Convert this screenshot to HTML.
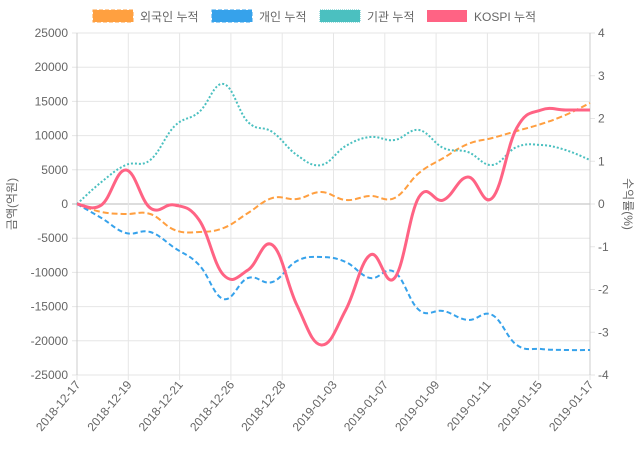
<!DOCTYPE html>
<html><head><meta charset="utf-8"><style>
body{margin:0;background:#fff;}
svg text{font-family:"Liberation Sans","Noto Sans CJK KR",sans-serif;fill:#666;font-size:12px;}
</style></head><body>
<svg id="c" width="640" height="450" xmlns="http://www.w3.org/2000/svg">
<g id="grid"></g>
<g id="lines"></g>
<rect x="93" y="10" width="40" height="12" fill="#ffa040" stroke="#ff9f40" stroke-dasharray="4,2"/>
<text x="140" y="21">외국인 누적</text>
<rect x="212" y="10" width="40" height="12" fill="#36a2eb" stroke="#36a2eb" stroke-dasharray="4,2"/>
<text x="259" y="21">개인 누적</text>
<rect x="320" y="10" width="40" height="12" fill="#4bc0c0" stroke="#4bc0c0" stroke-dasharray="1,1"/>
<text x="367" y="21">기관 누적</text>
<rect x="427" y="10" width="40" height="12" fill="#ff6384"/>
<text x="474" y="21">KOSPI 누적</text>
<text transform="translate(16,204) rotate(-90)" text-anchor="middle">금액(억원)</text>
<text transform="translate(624,204) rotate(90)" text-anchor="middle">수익률(%)</text>
</svg>
<script>
var L=77,R=590,T=33,B=375,ns="http://www.w3.org/2000/svg";
var g=document.getElementById('grid'),ln=document.getElementById('lines');
function el(p,t,a,txt){var e=document.createElementNS(ns,t);for(var k in a)e.setAttribute(k,a[k]);if(txt!=null)e.textContent=txt;p.appendChild(e);return e;}
for(var i=0;i<=10;i++){var y=T+(B-T)*i/10;var v=25000-5000*i;
el(g,'line',{x1:L-5,x2:R,y1:y,y2:y,stroke:v==0?'#bbb':'#e6e6e6','stroke-width':1});
el(g,'text',{x:L-9,y:y+4,'text-anchor':'end'},String(v));}
for(var i=0;i<=8;i++){var y=T+(B-T)*i/8;el(g,'line',{x1:R,x2:R+5,y1:y,y2:y,stroke:'#e6e6e6'});el(g,'text',{x:R+8,y:y+4},String(4-i));}
var labs=['2018-12-17','2018-12-19','2018-12-21','2018-12-26','2018-12-28','2019-01-03','2019-01-07','2019-01-09','2019-01-11','2019-01-15','2019-01-17'];
for(var i=0;i<11;i++){var x=L+(R-L)*i/10;el(g,'line',{x1:x,x2:x,y1:T,y2:B+5,stroke:'#e6e6e6'});
el(g,'text',{transform:'translate('+(x+4)+','+(B+10)+') rotate(-50)','text-anchor':'end'},labs[i]);}
el(g,'line',{x1:L,x2:L,y1:T,y2:B,stroke:'#ccc'});el(g,'line',{x1:R,x2:R,y1:T,y2:B,stroke:'#ccc'});
function path(ys){var n=ys.length,st=(R-L)/(n-1),p=[];for(var i=0;i<n;i++)p.push([L+st*i,ys[i]]);
var d='M'+p[0][0]+','+p[0][1],t=0.2;
for(var i=0;i<n-1;i++){var p0=p[Math.max(i-1,0)],p1=p[i],p2=p[i+1],p3=p[Math.min(i+2,n-1)];
var c1=[p1[0]+(p2[0]-p0[0])*t,p1[1]+(p2[1]-p0[1])*t],c2=[p2[0]-(p3[0]-p1[0])*t,p2[1]-(p3[1]-p1[1])*t];
d+=' C'+c1+' '+c2+' '+p2;}return d;}
var S=[
[[204,212,214,214,230,232,228,213,198,199,192,200,196,198,173,158,144,138,131,124,115,103],'#ff9f40','6,3',2],
[[204,218,233,232,248,265,299,278,282,261,257,262,278,272,310,311,320,315,345,349,350,350],'#36a2eb','5,3',2],
[[204,182,165,160,126,112,84,122,132,155,165,146,137,140,130,148,152,165,147,145,150,160],'#4bc0c0','2,2',2],
[[204,205,170,208,205,220,275,270,245,305,345,310,255,278,197,200,177,198,128,110,110,110],'#ff6384',null,3]];
S.forEach(function(s){var a={d:path(s[0]),fill:'none',stroke:s[1],'stroke-width':s[3]};if(s[2])a['stroke-dasharray']=s[2];el(ln,'path',a);});
</script>
</body></html>
